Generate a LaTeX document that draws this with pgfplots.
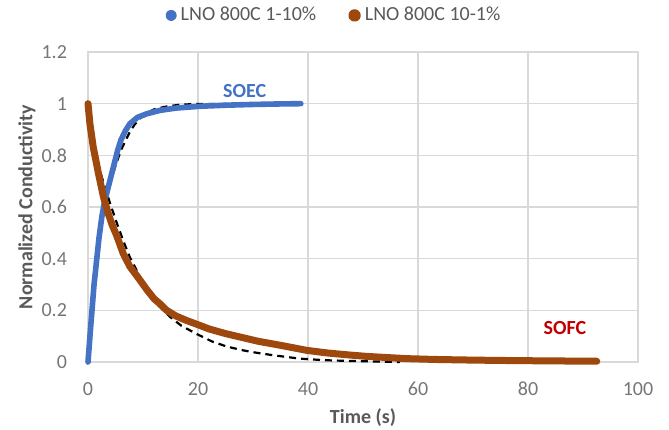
\documentclass[border=0pt]{standalone}
\usepackage{fontspec}
\setmainfont{Carlito}
\usepackage{pgfplots}
\pgfplotsset{compat=1.18}
\usetikzlibrary{calc}

\definecolor{soecblue}{RGB}{68,114,196}
\definecolor{sofcbrown}{RGB}{158,72,14}
\definecolor{sofcred}{RGB}{192,0,0}
\definecolor{gridgrey}{RGB}{217,217,217}
\definecolor{labgrey}{RGB}{89,89,89}
\definecolor{tickgrey}{RGB}{118,118,118}

\begin{document}
\begin{tikzpicture}
\begin{axis}[
    name=ax,
    scale only axis, width=275pt, height=155pt,
    xmin=0, xmax=100, ymin=0, ymax=1.2,
    xtick={0,20,...,100}, ytick={0,0.2,...,1.2},
    grid=major, grid style={gridgrey, line width=0.6pt},
    axis line style={gridgrey, line width=0.6pt},
    major tick length=0pt,
    tick label style={font=\fontsize{10}{12}\selectfont, text=tickgrey},
    /pgf/number format/assume math mode=true,
    yticklabel style={xshift=-7pt},
    xticklabel style={yshift=-6.5pt},
    xlabel={Time (s)}, ylabel={Normalized Conductivity},
    label style={font=\fontsize{10}{12}\selectfont\bfseries, text=labgrey},
    xlabel style={at={(axis description cs:0.5,-0.179)}, anchor=center},
    ylabel style={at={(axis description cs:-0.111,0.5)}, anchor=center},
    clip=false,
    legend columns=-1,
    legend style={draw=none, fill=none, at={(0.449,1.118)}, anchor=center,
        font=\fontsize{10}{12}\selectfont, text=labgrey,
        /tikz/every even column/.append style={column sep=14pt}},
    legend image code/.code={\fill[#1] (0pt,0pt) circle (1.4pt);},
]
% fitted curves (dashed, under the data)
\addplot[black, line width=1.1pt, dash pattern=on 3.5pt off 2.5pt, forget plot] coordinates {
 (0,0) (1,0.27) (2,0.48) (3,0.6) (4,0.69) (5,0.76) (6,0.82) (7,0.865) (7.6,0.89)
 (8.5,0.92) (10,0.955) (12,0.978) (14,0.988) (16.7,0.996) (20,0.999) (38,1.0)};
\addplot[black, line width=1.1pt, dash pattern=on 3.5pt off 2.5pt, forget plot] coordinates {
 (0,1) (0.97,0.87) (1.6,0.79) (2.5,0.716) (4.0,0.615) (5.2,0.54) (6.4,0.47)
 (7.6,0.406) (9.45,0.33) (11,0.27) (12.5,0.225) (14.9,0.175) (17,0.14)
 (19.8,0.108) (22.5,0.08) (25.2,0.06) (28,0.046) (30,0.038) (33.7,0.026)
 (38.5,0.013) (43,0.007) (47.6,0.004) (52,0.002) (56.7,0.0)};
% measured data
\addplot[soecblue, line width=2.8pt, line cap=round, line join=round] coordinates {
 (0,0) (0.5,0.14) (1.1,0.30) (1.6,0.40) (2.0,0.48) (2.5,0.56) (3.0,0.62)
 (3.6,0.67) (4.2,0.72) (4.8,0.77) (5.4,0.82) (6.0,0.86) (6.8,0.895) (7.6,0.922)
 (9,0.947) (10.7,0.961) (13.1,0.974) (16,0.983) (20.4,0.99) (25,0.994)
 (30,0.997) (35,0.999) (38.7,1.0)};
\addplot[sofcbrown, line width=3.5pt, line cap=round, line join=round] coordinates {
 (0,1) (0.36,0.92) (0.97,0.83) (1.9,0.73) (2.8,0.64) (3.6,0.58) (4.4,0.53)
 (5.2,0.49) (6.4,0.42) (7.6,0.37) (9,0.33) (10.7,0.28) (12,0.245) (13.1,0.225)
 (14.3,0.2) (16,0.178) (18,0.16) (19.8,0.146) (22,0.128) (25,0.11) (27.6,0.097)
 (31,0.08) (34.9,0.065) (39.8,0.045) (43.5,0.035) (47.6,0.027) (50.5,0.022)
 (53.7,0.018) (58,0.013) (62.8,0.01) (68,0.008) (74.9,0.006) (80,0.005)
 (86,0.004) (92.5,0.003)};
\legend{LNO 800C 1-10\%, LNO 800C 10-1\%}
\node[font=\fontsize{10}{12}\selectfont\bfseries, text=soecblue] at (axis cs:28.5,1.05) {SOEC};
\node[font=\fontsize{10}{12}\selectfont\bfseries, text=sofcred] at (axis cs:86.7,0.13) {SOFC};
\end{axis}
\pgfresetboundingbox
\path ($(ax.south west)+(-44pt,-33.5pt)$) rectangle ($(ax.north east)+(15.5pt,26pt)$);
\end{tikzpicture}
\end{document}
